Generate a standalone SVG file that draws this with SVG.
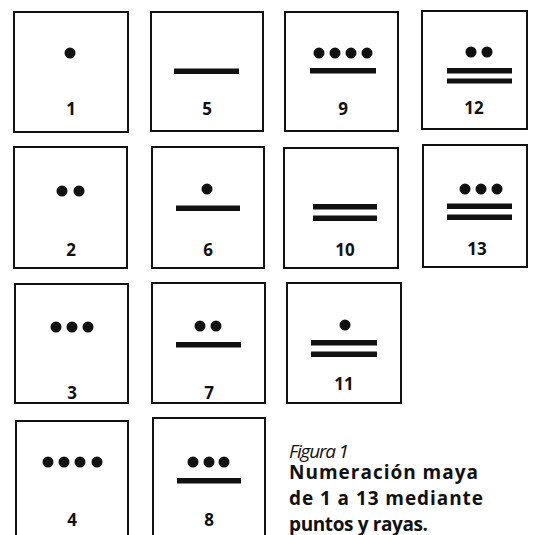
<svg xmlns="http://www.w3.org/2000/svg" width="543" height="535" viewBox="0 0 543 535">
<style>
.box{fill:#fff;stroke:#111;stroke-width:2}
.dot{fill:#111}
.bar{fill:#111}
.num{font-family:"Open Sans","Liberation Sans",sans-serif;font-weight:bold;font-size:17px;fill:#111;text-anchor:middle}
.cap{font-family:"Open Sans","Liberation Sans",sans-serif;font-size:19px;fill:#111}
</style>
<rect width="543" height="535" fill="#fff"/>
<g id="n1"><rect class="box" x="14" y="12" width="114" height="120"/><circle class="dot" cx="70" cy="53" r="5.5"/><text class="num" x="71" y="115">1</text></g>
<g id="n5"><rect class="box" x="151" y="12" width="112" height="119"/><rect class="bar" x="174" y="68.5" width="65" height="5.5"/><text class="num" x="207" y="115">5</text></g>
<g id="n9"><rect class="box" x="285" y="12" width="113" height="119"/><circle class="dot" cx="319" cy="53" r="5.5"/><circle class="dot" cx="335" cy="53" r="5.5"/><circle class="dot" cx="351" cy="53" r="5.5"/><circle class="dot" cx="367" cy="53" r="5.5"/><rect class="bar" x="310" y="68" width="66" height="5.5"/><text class="num" x="343" y="115">9</text></g>
<g id="n12"><rect class="box" x="422" y="11" width="105" height="118"/><circle class="dot" cx="471" cy="52" r="5.5"/><circle class="dot" cx="487" cy="52" r="5.5"/><rect class="bar" x="447" y="68" width="65" height="5.5"/><rect class="bar" x="447" y="78.5" width="65" height="5"/><text class="num" x="474" y="114">12</text></g>
<g id="n2"><rect class="box" x="14" y="147" width="113" height="121"/><circle class="dot" cx="62" cy="191" r="5.5"/><circle class="dot" cx="79" cy="191" r="5.5"/><text class="num" x="71" y="256">2</text></g>
<g id="n6"><rect class="box" x="152" y="147" width="112" height="121"/><circle class="dot" cx="207" cy="189" r="5.5"/><rect class="bar" x="176" y="205.5" width="64" height="5.5"/><text class="num" x="208" y="256">6</text></g>
<g id="n10"><rect class="box" x="284" y="148" width="114" height="120"/><rect class="bar" x="313" y="204" width="64" height="5.5"/><rect class="bar" x="313" y="215.5" width="64" height="5.5"/><text class="num" x="345" y="256">10</text></g>
<g id="n13"><rect class="box" x="423" y="145" width="104" height="122"/><circle class="dot" cx="465" cy="189" r="5.5"/><circle class="dot" cx="481" cy="189" r="5.5"/><circle class="dot" cx="497" cy="189" r="5.5"/><rect class="bar" x="447" y="203.5" width="65" height="5.5"/><rect class="bar" x="447" y="214.5" width="65" height="5.5"/><text class="num" x="477" y="255">13</text></g>
<g id="n3"><rect class="box" x="15" y="284" width="113" height="119"/><circle class="dot" cx="56" cy="327" r="5.5"/><circle class="dot" cx="72" cy="327" r="5.5"/><circle class="dot" cx="88" cy="327" r="5.5"/><text class="num" x="72" y="399">3</text></g>
<g id="n7"><rect class="box" x="152" y="283" width="113" height="120"/><circle class="dot" cx="200" cy="326" r="5.5"/><circle class="dot" cx="216" cy="326" r="5.5"/><rect class="bar" x="176" y="342" width="65" height="5.5"/><text class="num" x="209" y="399">7</text></g>
<g id="n11"><rect class="box" x="287" y="283" width="114" height="120"/><circle class="dot" cx="345" cy="325" r="5.5"/><rect class="bar" x="311" y="340" width="66" height="5.5"/><rect class="bar" x="311" y="351.5" width="66" height="5.5"/><text class="num" x="344" y="390">11</text></g>
<g id="n4"><rect class="box" x="16" y="421" width="112" height="130"/><circle class="dot" cx="48" cy="462" r="5.5"/><circle class="dot" cx="64" cy="462" r="5.5"/><circle class="dot" cx="80" cy="462" r="5.5"/><circle class="dot" cx="97" cy="462" r="5.5"/><text class="num" x="72" y="526">4</text></g>
<g id="n8"><rect class="box" x="153" y="418" width="112" height="130"/><circle class="dot" cx="193" cy="462" r="5.5"/><circle class="dot" cx="209" cy="462" r="5.5"/><circle class="dot" cx="224" cy="462" r="5.5"/><rect class="bar" x="177" y="478" width="64" height="5.5"/><text class="num" x="209" y="526">8</text></g>
<g id="caption">
<text class="cap" x="289" y="458" font-style="italic" font-size="17" textLength="60">Figura 1</text>
<text class="cap" x="289" y="479" font-weight="bold" textLength="189">Numeración maya</text>
<text class="cap" x="289" y="505" font-weight="bold" textLength="194">de 1 a 13 mediante</text>
<text class="cap" x="289" y="531" font-weight="bold" textLength="139">puntos y rayas.</text>
</g>
<g id="connectors"/>
</svg>
